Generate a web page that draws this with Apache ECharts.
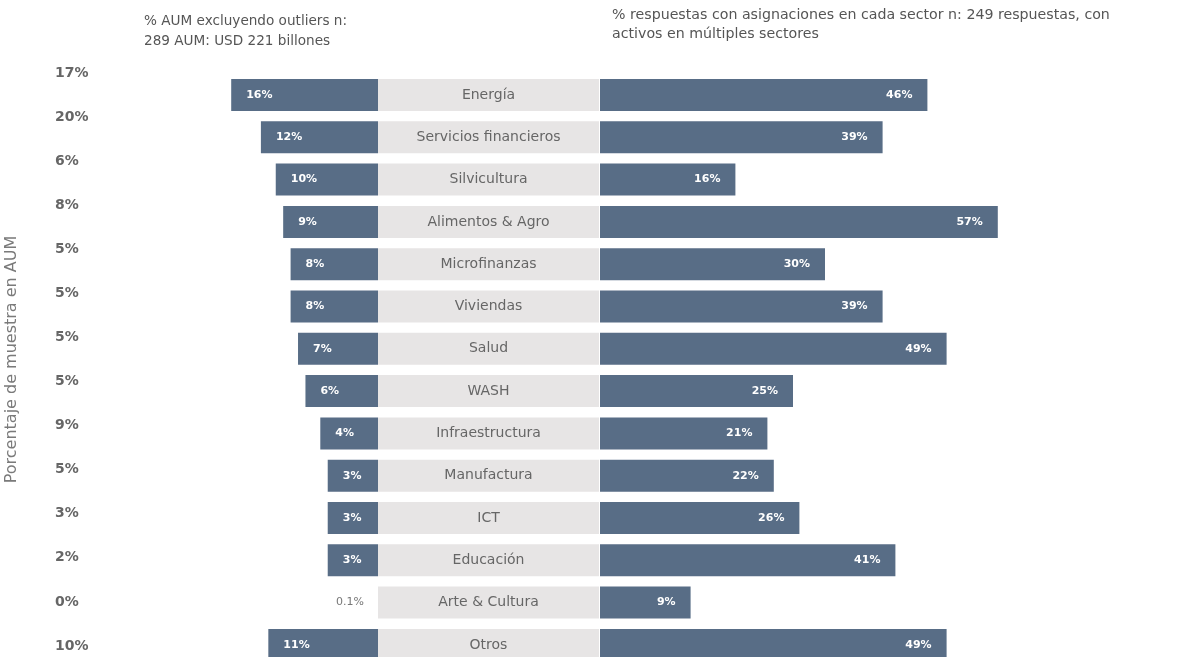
<!DOCTYPE html>
<html>
<head>
<meta charset="utf-8">
<script src="https://cdn.jsdelivr.net/npm/echarts@6/dist/echarts.min.js"></script>
<style>html,body{margin:0;padding:0;background:#fff}#c{width:1182px;height:657px}</style>
</head>
<body>
<div id="c"></div>
<script>
const categories = ['Energía','Servicios financieros','Silvicultura','Alimentos & Agro','Microfinanzas','Viviendas','Salud','WASH','Infraestructura','Manufactura','ICT','Educación','Arte & Cultura','Otros'];
const aumPct = [16,12,10,9,8,8,7,6,4,3,3,3,0.1,11];
const respPct = [46,39,16,57,30,39,49,25,21,22,26,41,9,49];
const samplePct = ['17%','20%','6%','8%','5%','5%','5%','5%','9%','5%','3%','2%','0%','10%'];

const BAR = '#586d86';
const BAND = '#e7e5e5';
const PAD_L = 28, PAD_R = 33;
const FONT = '"DejaVu Sans", "Open Sans", sans-serif';
const BAR_RATIO = 0.757;

const chart = echarts.init(document.getElementById('c'), null, {renderer: 'canvas'});

function fmt(v){ return v + '%'; }

const gTop = 73.85, gHeight = 592.2;

const option = {
  backgroundColor: '#ffffff',
  animation: false,
  title: [
    {text: '% AUM excluyendo outliers n:\n289 AUM: USD 221 billones', left: 144, top: 11, padding: 0,
     textStyle: {fontFamily: FONT, fontSize: 13.6, fontWeight: 'normal', color: '#555', lineHeight: 20}},
    {text: '% respuestas con asignaciones en cada sector n: 249 respuestas, con\nactivos en múltiples sectores', left: 612, top: 6, padding: 0,
     textStyle: {fontFamily: FONT, fontSize: 14.2, fontWeight: 'normal', color: '#555', lineHeight: 19}}
  ],
  grid: [
    {left: 55, width: 20, top: 51, height: 617, outerBoundsMode: 'none'},
    {left: 81, width: 297, top: gTop, height: gHeight, outerBoundsMode: 'none'},
    {left: 378, width: 221, top: gTop, height: gHeight, outerBoundsMode: 'none'},
    {left: 600, width: 512, top: gTop, height: gHeight, outerBoundsMode: 'none'}
  ],
  xAxis: [
    {gridIndex: 0, type: 'value', show: false},
    {gridIndex: 1, type: 'value', min: 0, max: 40, inverse: true, show: false},
    {gridIndex: 2, type: 'value', min: 0, max: 1, show: false},
    {gridIndex: 3, type: 'value', min: 0, max: 80, show: false}
  ],
  yAxis: [
    {gridIndex: 0, type: 'category', data: samplePct, inverse: true,
     axisLine: {show: false}, axisTick: {show: false}, splitLine: {show: false},
     axisLabel: {inside: true, margin: 0, fontFamily: FONT, fontWeight: 'bold', fontSize: 14, color: '#666'},
     name: 'Porcentaje de muestra en AUM', nameLocation: 'middle', nameRotate: 90, nameGap: 35,
     nameTextStyle: {fontFamily: FONT, fontSize: 16, color: '#7a7a7a'}},
    {gridIndex: 1, type: 'category', data: categories, inverse: true, show: false},
    {gridIndex: 2, type: 'category', data: categories, inverse: true, show: false},
    {gridIndex: 3, type: 'category', data: categories, inverse: true, show: false}
  ],
  series: [
    {
      type: 'custom', xAxisIndex: 1, yAxisIndex: 1,
      data: aumPct.map((v, i) => [v, i]),
      encode: {x: 0, y: 1},
      renderItem: function(params, api){
        const v = api.value(0), c = api.value(1);
        const p0 = api.coord([0, c]);
        const p1 = api.coord([v, c]);
        const h = api.size([0, 1])[1] * BAR_RATIO;
        if (v < 1) {
          return {type: 'text', x: p0[0] - 28, y: p0[1],
            style: {text: fmt(v), fill: '#777', font: '11px ' + FONT, align: 'center', verticalAlign: 'middle'}};
        }
        const xl = p1[0] - PAD_L;
        return {type: 'group', children: [
          {type: 'rect', shape: {x: xl, y: p0[1] - h / 2, width: p0[0] - xl, height: h}, style: {fill: BAR}},
          {type: 'text', x: xl + 15, y: p0[1],
           style: {text: fmt(v), fill: '#fff', font: 'bold 11px ' + FONT, align: 'left', verticalAlign: 'middle'}}
        ]};
      }
    },
    {
      type: 'custom', xAxisIndex: 2, yAxisIndex: 2,
      data: categories.map((c, i) => [0, i]),
      encode: {x: 0, y: 1},
      renderItem: function(params, api){
        const c = api.value(1);
        const p = api.coord([0, c]);
        const h = api.size([0, 1])[1] * BAR_RATIO;
        const cs = params.coordSys;
        return {type: 'group', children: [
          {type: 'rect', shape: {x: cs.x, y: p[1] - h / 2, width: cs.width, height: h}, style: {fill: BAND}},
          {type: 'text', x: cs.x + cs.width / 2, y: p[1],
           style: {text: categories[c], fill: '#666', font: '14px ' + FONT, align: 'center', verticalAlign: 'middle'}}
        ]};
      }
    },
    {
      type: 'custom', xAxisIndex: 3, yAxisIndex: 3,
      data: respPct.map((v, i) => [v, i]),
      encode: {x: 0, y: 1},
      renderItem: function(params, api){
        const v = api.value(0), c = api.value(1);
        const p0 = api.coord([0, c]);
        const p1 = api.coord([v, c]);
        const h = api.size([0, 1])[1] * BAR_RATIO;
        const xr = p1[0] + PAD_R;
        return {type: 'group', children: [
          {type: 'rect', shape: {x: p0[0], y: p0[1] - h / 2, width: xr - p0[0], height: h}, style: {fill: BAR}},
          {type: 'text', x: xr - 15, y: p0[1],
           style: {text: fmt(v), fill: '#fff', font: 'bold 11px ' + FONT, align: 'right', verticalAlign: 'middle'}}
        ]};
      }
    }
  ]
};
chart.setOption(option);
</script>
</body>
</html>
